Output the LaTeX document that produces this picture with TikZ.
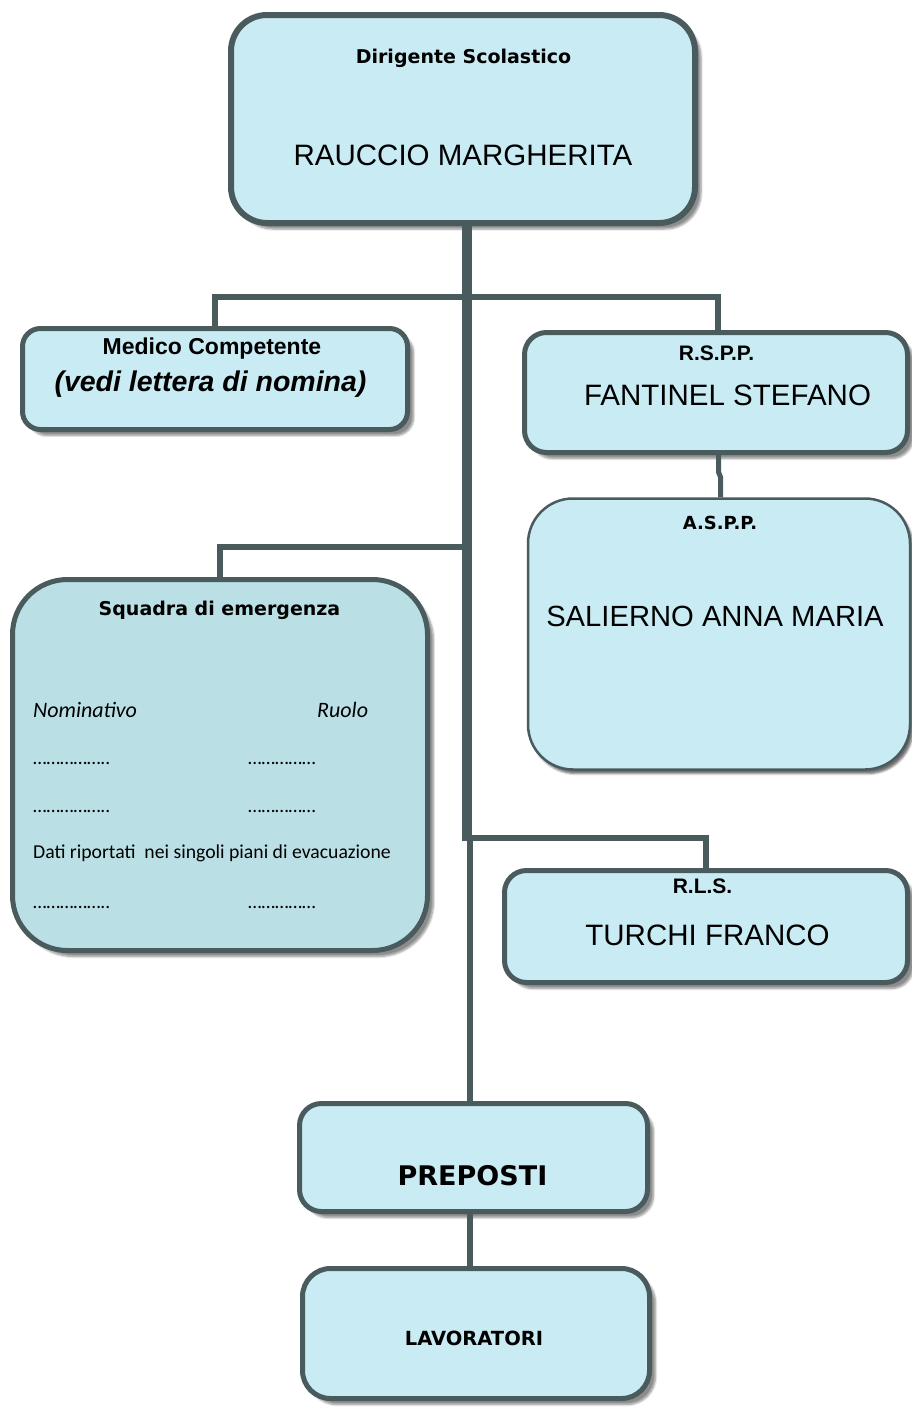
\documentclass[tikz,border=0pt]{standalone}
\usepackage{fontspec}
\setmainfont{Liberation Sans}
\newfontfamily\dvs{DejaVu Sans}
\newfontfamily\clb{Carlito}
\usetikzlibrary{shadows.blur}
\definecolor{bordc}{RGB}{74,91,93}
\definecolor{boxfill}{RGB}{201,235,244}
\definecolor{sqfill}{RGB}{186,223,228}
\newcommand\fsz[1]{\fontsize{#1}{#1}\selectfont}
\begin{document}
\begin{tikzpicture}[x=1pt,y=-1pt,
  box/.style={draw=bordc, fill=boxfill, inner sep=0pt, line width=5pt,
    blur shadow={shadow xshift=6pt, shadow yshift=-6pt, shadow blur steps=6, shadow opacity=45}},
  conn/.style={draw=bordc, line width=6pt},
  txt/.style={anchor=base, inner sep=0pt, text=black},
  ltxt/.style={anchor=base west, inner sep=0pt, text=black}]
\useasboundingbox (0,0) rectangle (912,1408);

% boxes
\node[box, line width=6pt, rounded corners=36pt, minimum width=464pt, minimum height=208pt] (dir) at (463,119) {};
\node[box, rounded corners=18pt, minimum width=385pt, minimum height=101pt] (med) at (215,379) {};
\node[box, rounded corners=22pt, minimum width=383pt, minimum height=120pt] (rspp) at (716,392.5) {};
\node[box, line width=2.5pt, rounded corners=45pt, minimum width=382pt, minimum height=271pt,
  blur shadow={shadow xshift=3pt, shadow yshift=-4pt, shadow blur steps=4, shadow opacity=35}] (aspp) at (719,634) {};
\node[box, fill=sqfill, rounded corners=55pt, minimum width=415pt, minimum height=371pt] (sq) at (220,765) {};
\node[box, rounded corners=22pt, minimum width=403pt, minimum height=112pt] (rls) at (706,926.5) {};
\node[box, rounded corners=22pt, minimum width=348pt, minimum height=108pt] (prep) at (473.5,1157.5) {};
\node[box, rounded corners=28pt, minimum width=347pt, minimum height=130pt] (lav) at (476,1333.5) {};

% connector points
\coordinate (tA) at (467,297);
\coordinate (tB) at (467,546.5);
\coordinate (tC) at (467,841);
\coordinate (bl) at (215,297);
\coordinate (br) at (718,297);
\coordinate (sl) at (220,546.5);
\coordinate (rl) at (706,838);
\coordinate (tD) at (470,838);
\coordinate (j1) at (718.5,472);
\coordinate (j2) at (720.5,477);

% connectors
\draw[conn, line width=10pt] (dir.south -| tA) -- (tC);
\draw[conn] (tD) -- (prep.north -| tD);
\draw[conn] (med.north -| bl) -- (bl) -- (br) -- (rspp.north -| br);
\draw[conn] (sq.north -| sl) -- (sl) -- (tB);
\draw[conn] (tC |- rl) -- (rl) -- (rls.north -| rl);
\draw[conn, line width=5pt] (rspp.south -| j1) -- (j1) -- (j2) -- (aspp.north -| j2);
\draw[conn] (prep.south -| tD) -- (lav.north -| tD);

% texts
\node[txt, font=\dvs\bfseries\fsz{19}] (t1) at (463.5,63) {Dirigente Scolastico};
\node[txt, font=\fsz{29.5}] (t2) at (463,165) {RAUCCIO MARGHERITA};

\node[txt, font=\bfseries\fsz{23}] (t3) at (212,354) {Medico Competente};
\node[txt, font=\bfseries\itshape\fsz{28.5}] (t4) at (210.5,391) {(vedi lettera di nomina)};

\node[txt, font=\bfseries\fsz{21}] (t5) at (716.5,360) {R.S.P.P.};
\node[txt, font=\fsz{29.5}] (t6) at (727.5,405) {FANTINEL STEFANO};

\node[txt, font=\dvs\bfseries\fsz{18}] (t7) at (720,529) {A.S.P.P.};
\node[txt, font=\fsz{29.2}] (t8) at (715,626) {SALIERNO ANNA MARIA};

\node[txt, font=\dvs\bfseries\fsz{19}] (t9) at (219.5,615) {Squadra di emergenza};
\node[ltxt, font=\clb\itshape\fsz{22}] (t10) at (33,717) {Nominativo};
\node[ltxt, font=\clb\itshape\fsz{22}] (t11) at (317,717) {Ruolo};
\node[ltxt, font=\clb\fsz{19.5}] (t12) at (33,764) {……………..};
\node[ltxt, font=\clb\fsz{19.5}] (t13) at (248,764) {……………};
\node[ltxt, font=\clb\fsz{19.5}] (t14) at (33,812) {……………..};
\node[ltxt, font=\clb\fsz{19.5}] (t15) at (248,812) {……………};
\node[ltxt, font=\clb\fsz{19.7}] (t16) at (33,858) {Dati riportati\ \ nei singoli piani di evacuazione};
\node[ltxt, font=\clb\fsz{19.5}] (t17) at (33,908) {……………..};
\node[ltxt, font=\clb\fsz{19.5}] (t18) at (248,908) {……………};

\node[txt, font=\bfseries\fsz{21}] (t19) at (702.5,893) {R.L.S.};
\node[txt, font=\fsz{29.5}] (t20) at (707.5,945) {TURCHI FRANCO};

\node[txt, font=\dvs\bfseries\fsz{27}] (t21) at (472.5,1185) {PREPOSTI};
\node[txt, font=\dvs\bfseries\fsz{19.5}] (t22) at (474,1345) {LAVORATORI};
\end{tikzpicture}
\end{document}
